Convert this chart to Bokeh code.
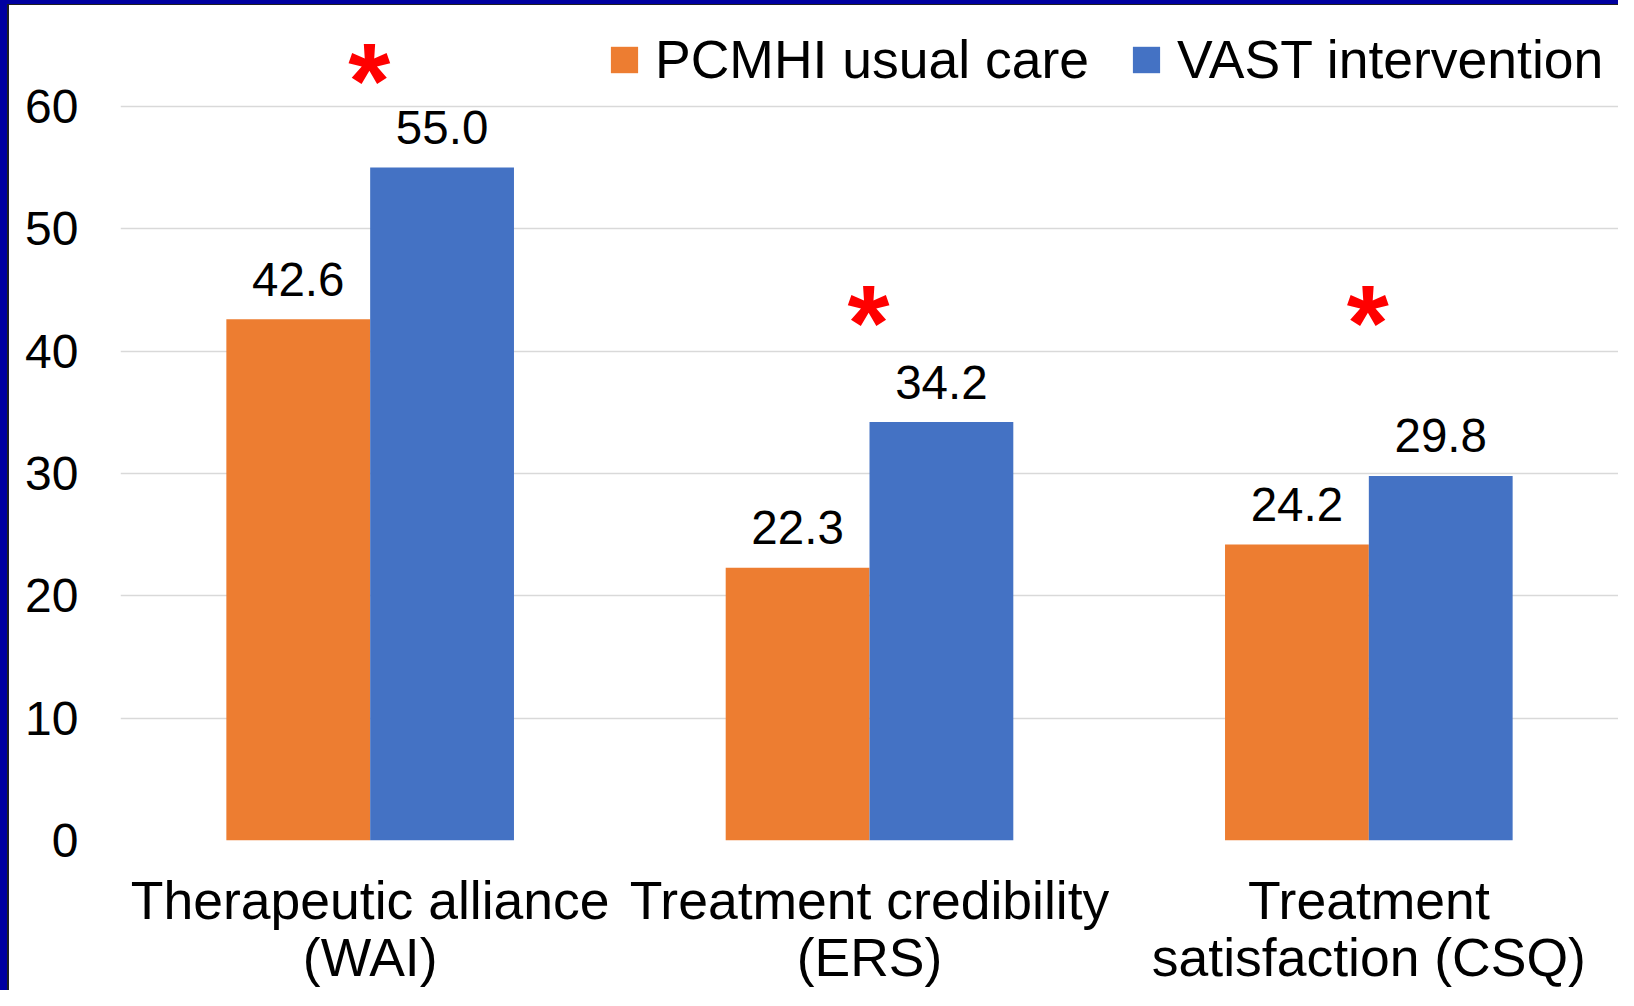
from bokeh.plotting import figure
from bokeh.models import (ColumnDataSource, Range1d, FactorRange, FixedTicker,
                          Legend, LegendItem)
from bokeh.transform import dodge
from bokeh.core.properties import value
from bokeh.embed import file_html
from bokeh.resources import INLINE

# ---- data ----
categories = ["Therapeutic alliance\n(WAI)",
              "Treatment credibility\n(ERS)",
              "Treatment\nsatisfaction (CSQ)"]
usual_care = [42.6, 22.3, 24.2]
vast_intervention = [55.0, 34.2, 29.8]
significant = ["*", "*", "*"]
star_level = [58.2, 38.4, 38.4]
y_ticks = [0, 10, 20, 30, 40, 50, 60]
series_names = ["PCMHI usual care", "VAST intervention"]

ORANGE = "#ED7D31"
BLUE = "#4472C4"
FONT = "Liberation Sans"

src = ColumnDataSource(dict(
    cat=categories,
    usual=usual_care,
    vast=vast_intervention,
    usual_lbl=["%.1f" % v for v in usual_care],
    vast_lbl=["%.1f" % v for v in vast_intervention],
    star=significant,
    star_y=star_level,
))

W, H = 1618, 990
p = figure(width=W, height=H, output_backend="svg", toolbar_location=None,
           x_range=FactorRange(*categories, range_padding=0),
           y_range=Range1d(0, 68.0),
           min_border_left=120, min_border_right=0,
           min_border_top=8, min_border_bottom=150)
p.x_range.range_padding = 0
p.outline_line_color = None
p.background_fill_color = "white"
p.border_fill_alpha = 0
p.styles = {"background-color": "white",
            "box-shadow": "inset 7px 4px 0 0 #0000A0, inset 9px 5px 0 0 #202020"}

bw = 0.288
r1 = p.vbar(x=dodge("cat", -bw / 2, range=p.x_range), top="usual", width=bw,
            source=src, fill_color=ORANGE, line_color=None)
r2 = p.vbar(x=dodge("cat", bw / 2, range=p.x_range), top="vast", width=bw,
            source=src, fill_color=BLUE, line_color=None)

p.text(x=dodge("cat", -bw / 2, range=p.x_range), y="usual", text="usual_lbl",
       source=src, text_align="center", text_baseline="alphabetic",
       y_offset=-40, text_font=value(FONT), text_font_size="47.5px",
       text_color="black")
p.text(x=dodge("cat", bw / 2, range=p.x_range), y="vast", text="vast_lbl",
       source=src, text_align="center", text_baseline="alphabetic",
       y_offset=-40, text_font=value(FONT), text_font_size="47.5px",
       text_color="black")
p.text(x="cat", y="star_y", text="star", source=src, text_align="center",
       text_baseline="alphabetic", x_offset=-1, y_offset=-48,
       text_font=value(FONT), text_font_style="bold",
       text_font_size="108px", text_color="#FF0000")

# axes
p.xaxis.axis_line_color = None
p.xaxis.major_tick_line_color = None
p.xaxis.minor_tick_line_color = None
p.xaxis.major_tick_out = 0
p.xaxis.major_label_text_font = FONT
p.xaxis.major_label_text_font_size = "53.5px"
p.xaxis.major_label_text_color = "black"
p.xaxis.major_label_standoff = 30
p.xaxis.major_label_text_line_height = 0.98

p.yaxis.axis_line_color = None
p.yaxis.major_tick_line_color = None
p.yaxis.minor_tick_line_color = None
p.yaxis.major_tick_out = 0
p.yaxis.ticker = FixedTicker(ticks=y_ticks)
p.yaxis.major_label_text_font = FONT
p.yaxis.major_label_text_font_size = "48px"
p.yaxis.major_label_text_color = "black"
p.yaxis.major_label_standoff = 42

p.xgrid.grid_line_color = None
p.ygrid.ticker = FixedTicker(ticks=y_ticks)
p.ygrid.grid_line_color = "#D9D9D9"
p.ygrid.grid_line_width = 1.5

legend = Legend(items=[LegendItem(label=series_names[0], renderers=[r1]),
                       LegendItem(label=series_names[1], renderers=[r2])],
                orientation="horizontal", location=(487, 750),
                glyph_width=34, glyph_height=33, label_standoff=14,
                spacing=40, padding=0, margin=0,
                label_text_font=FONT, label_text_font_size="53.5px",
                label_text_color="black",
                border_line_color=None, background_fill_alpha=0)
p.add_layout(legend, "center")

open("out.html", "w").write(file_html(p, INLINE))
